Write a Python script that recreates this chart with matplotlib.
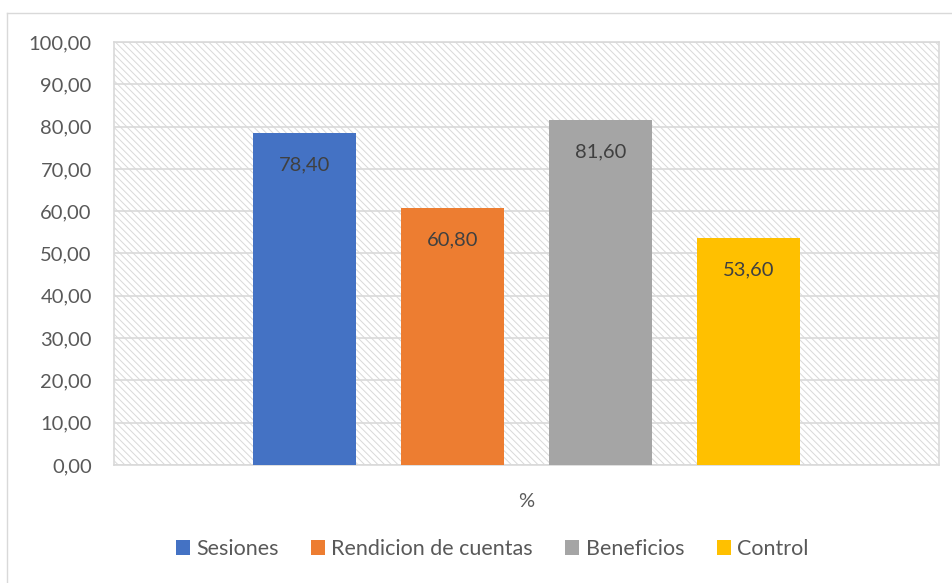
import matplotlib
matplotlib.use("Agg")
import matplotlib.pyplot as plt
from matplotlib.patches import Rectangle
from matplotlib.lines import Line2D

categories = ["Sesiones", "Rendicion de cuentas", "Beneficios", "Control"]
values = [78.40, 60.80, 81.60, 53.60]
colors = ["#4472C4", "#ED7D31", "#A5A5A5", "#FFC000"]
x_label = "%"
y_ticks = [0, 10, 20, 30, 40, 50, 60, 70, 80, 90, 100]

plt.rcParams["font.family"] = ["Lato", "DejaVu Sans"]
plt.rcParams["hatch.linewidth"] = 0.7
plt.rcParams["hatch.color"] = "#D9D9D9"

fig = plt.figure(figsize=(9.52, 5.83), dpi=100)
ax = fig.add_axes([114 / 952, 1 - 465 / 583, 825 / 952, 423 / 583])

# chart border (only top/left visible in the crop)
fig.add_artist(Line2D([7 / 952, 7 / 952], [0, 1 - 13 / 583], transform=fig.transFigure,
                      color="#D9D9D9", lw=1))
fig.add_artist(Line2D([7 / 952, 1], [1 - 13 / 583, 1 - 13 / 583], transform=fig.transFigure,
                      color="#D9D9D9", lw=1))

# hatched plot area
ax.add_patch(Rectangle((0, 0), 1, 1, transform=ax.transAxes, facecolor="white",
                       edgecolor="#D9D9D9", hatch="\\\\\\\\\\", lw=0, zorder=0))

width = 0.126
step = 0.1794
for i, (cat, val, col) in enumerate(zip(categories, values, colors)):
    xpos = (i - 1.5) * step
    ax.bar(xpos, val, width=width, color=col, label=cat, zorder=3)
    ax.text(xpos, val - 7.5, f"{val:.2f}".replace(".", ","), ha="center", va="center",
            fontsize=14.5, color="#404040", zorder=4)

ax.set_xlim(-0.5, 0.5)
ax.set_ylim(0, 100)
ax.set_yticks(y_ticks)
ax.set_yticklabels([f"{t:.2f}".replace(".", ",") for t in y_ticks], fontsize=14.5, color="#595959")
ax.set_xticks([0])
ax.set_xticklabels([x_label], fontsize=14.5, color="#595959")
ax.tick_params(axis="y", length=0, pad=16)
ax.tick_params(axis="x", length=0, pad=20)
ax.set_facecolor("none")
ax.grid(axis="y", color="#D9D9D9", lw=1.2, zorder=1)
ax.set_axisbelow(True)
for sp in ax.spines.values():
    sp.set_color("#D9D9D9")
    sp.set_linewidth(1.2)

fig.legend(loc="center", bbox_to_anchor=(492 / 952, 1 - 549 / 583), ncol=4, frameon=False,
           fontsize=15.5, handlelength=0.65, handleheight=0.65, handletextpad=0.3,
           columnspacing=1.5, labelcolor="#595959")

fig.savefig("out.png", dpi=100, facecolor="white")
